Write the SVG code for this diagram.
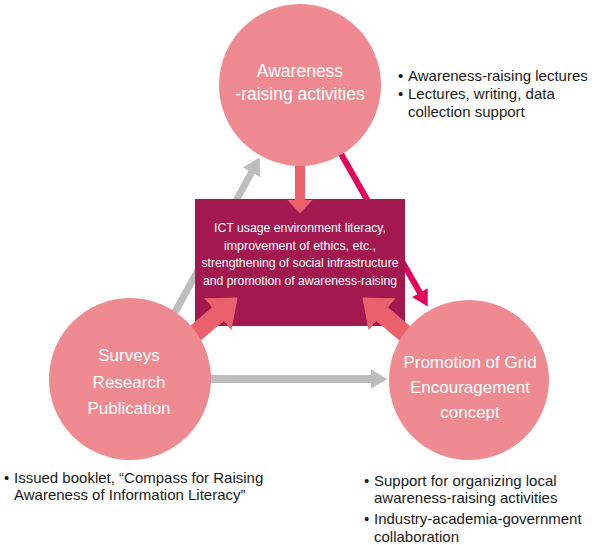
<svg xmlns="http://www.w3.org/2000/svg" width="600" height="545" viewBox="0 0 600 545">
<style>
.circ{fill:#EE8A90}
.ctext{font-family:"Liberation Sans",Arial,sans-serif;font-size:17px;fill:#FFFFFF;text-anchor:middle}
.btext{font-family:"Liberation Sans",Arial,sans-serif;font-size:13px;fill:#FFFFFF;text-anchor:middle}
.note{font-family:"Liberation Sans",Arial,sans-serif;font-size:15px;fill:#1A1A1A}
.grey{stroke:#BDBDBD;fill:none}
.salmon{stroke:#EB616B;fill:none}
.magenta{stroke:#E4005B;fill:none}
</style>
<defs>
<marker id="hGrey" markerUnits="userSpaceOnUse" markerWidth="18" markerHeight="22" viewBox="0 0 18 22" refX="0.5" refY="11" orient="auto">
<path d="M0,1 L17,11 L0,21 z" fill="#BDBDBD"/>
</marker>
<marker id="hMag" markerUnits="userSpaceOnUse" markerWidth="17" markerHeight="20" viewBox="0 0 17 20" refX="0.5" refY="10" orient="auto">
<path d="M0,1 L16,10 L0,19 z" fill="#E4005B"/>
</marker>
<marker id="hSalS" markerUnits="userSpaceOnUse" markerWidth="15" markerHeight="28" viewBox="0 0 15 28" refX="0.5" refY="14" orient="auto">
<path d="M0,1 L14,14 L0,27 z" fill="#EB616B"/>
</marker>
<marker id="hSalL" markerUnits="userSpaceOnUse" markerWidth="27" markerHeight="44" viewBox="0 0 27 44" refX="0.5" refY="22" orient="auto">
<path d="M0,1 L26,22 L0,43 z" fill="#EB616B"/>
</marker>
</defs>

<g id="connectors-back">
<line class="grey" x1="168" y1="325" x2="251.8" y2="171.9" stroke-width="7" marker-end="url(#hGrey)"/>
<line class="grey" x1="200" y1="379" x2="371" y2="379" stroke-width="8" marker-end="url(#hGrey)"/>
<line class="magenta" x1="336" y1="145" x2="420.1" y2="293.1" stroke-width="6" marker-end="url(#hMag)"/>
</g>

<g id="center-box">
<rect x="195" y="199" width="210" height="127" fill="#A3194F"/>
<text class="btext" x="300" y="232" textLength="172" lengthAdjust="spacingAndGlyphs">ICT usage environment literacy,</text>
<text class="btext" x="300" y="249.5" textLength="152" lengthAdjust="spacingAndGlyphs">improvement of ethics, etc.,</text>
<text class="btext" x="300" y="267" textLength="197" lengthAdjust="spacingAndGlyphs">strengthening of social infrastructure</text>
<text class="btext" x="300" y="284.5" textLength="194" lengthAdjust="spacingAndGlyphs">and promotion of awareness-raising</text>
</g>

<g id="connectors">
<line class="salmon" x1="300" y1="160" x2="300" y2="200" stroke-width="10" marker-end="url(#hSalS)"/>
<line class="salmon" x1="178" y1="348" x2="218.2" y2="313.9" stroke-width="18" marker-end="url(#hSalL)"/>
<line class="salmon" x1="422" y1="348" x2="381.8" y2="313.9" stroke-width="18" marker-end="url(#hSalL)"/>
</g>

<g id="node-awareness">
<circle class="circ" cx="300" cy="85" r="81"/>
<text class="ctext" x="300" y="77" style="font-size:17.5px">Awareness</text>
<text class="ctext" x="300" y="100" style="font-size:17.5px">-raising activities</text>
</g>

<g id="node-surveys">
<circle class="circ" cx="130" cy="379" r="81"/>
<text class="ctext" x="129" y="361">Surveys</text>
<text class="ctext" x="129" y="388">Research</text>
<text class="ctext" x="129" y="414">Publication</text>
</g>

<g id="node-promotion">
<circle class="circ" cx="469" cy="380" r="80"/>
<text class="ctext" x="470" y="368">Promotion of Grid</text>
<text class="ctext" x="470" y="393">Encouragement</text>
<text class="ctext" x="470" y="418">concept</text>
</g>

<g id="notes-top">
<text class="note" x="398" y="81">•</text>
<text class="note" x="408" y="81">Awareness-raising lectures</text>
<text class="note" x="398" y="99">•</text>
<text class="note" x="408" y="99">Lectures, writing, data</text>
<text class="note" x="408" y="117">collection support</text>
</g>

<g id="notes-left">
<text class="note" x="4" y="483">•</text>
<text class="note" x="14" y="483">Issued booklet, “Compass for Raising</text>
<text class="note" x="14" y="500">Awareness of Information Literacy”</text>
</g>

<g id="notes-right">
<text class="note" x="364" y="486">•</text>
<text class="note" x="374" y="486">Support for organizing local</text>
<text class="note" x="374" y="503">awareness-raising activities</text>
<text class="note" x="364" y="524">•</text>
<text class="note" x="374" y="524">Industry-academia-government</text>
<text class="note" x="374" y="542">collaboration</text>
</g>
</svg>
